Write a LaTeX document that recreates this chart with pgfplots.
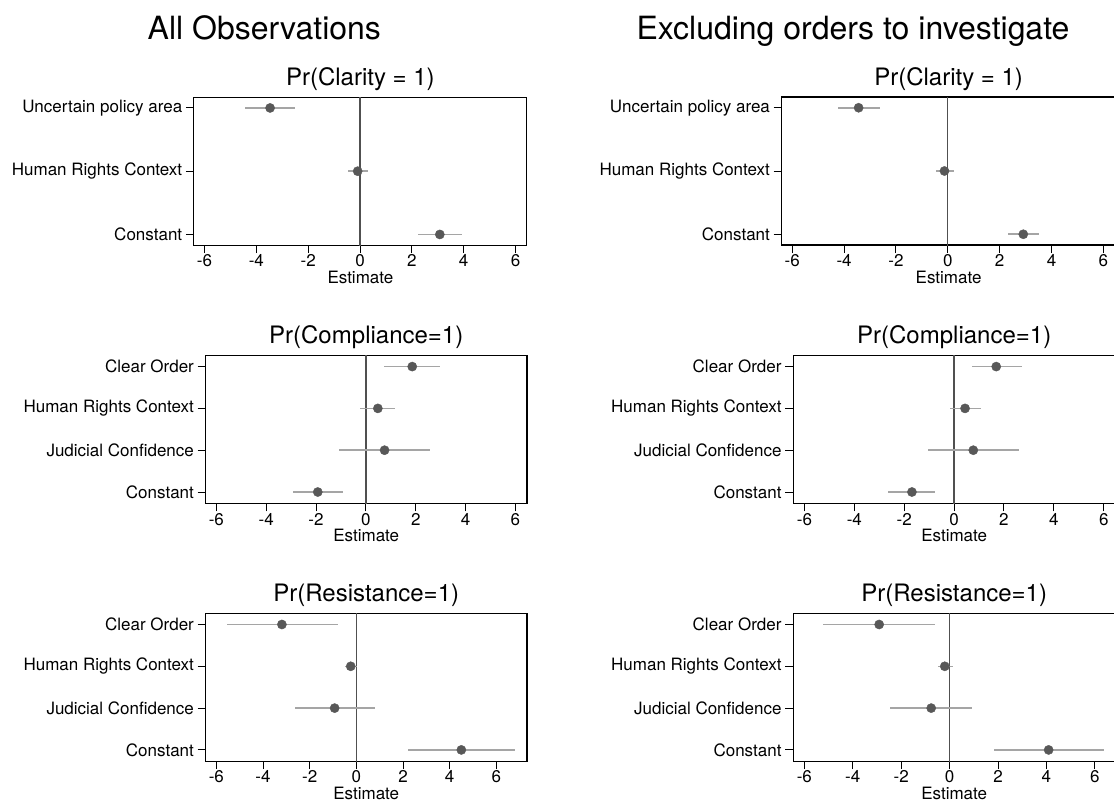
\documentclass[border=0pt]{standalone}
\usepackage{fontspec}
\setmainfont{TeX Gyre Heros}
\usepackage{pgfplots}
\usepackage{pgfplotstable}
\pgfplotsset{compat=1.18}

\definecolor{markgray}{RGB}{88,88,88}
\definecolor{cigray}{RGB}{165,165,165}
\definecolor{zerogray}{RGB}{80,80,80}

% All observations
\pgfplotstableread{
i b lo hi
1 -3.47 -4.45 -2.49
2 -0.09 -0.47 0.30
3 3.08 2.23 3.92
}\tA
\pgfplotstableread{
i b lo hi
1 1.86 0.72 2.98
2 0.48 -0.24 1.18
3 0.75 -1.07 2.56
4 -1.93 -2.93 -0.90
}\tC
\pgfplotstableread{
i b lo hi
1 -3.19 -5.56 -0.80
2 -0.24 -0.50 0.04
3 -0.93 -2.64 0.78
4 4.50 2.23 6.79
}\tE
% Excluding orders to investigate
\pgfplotstableread{
i b lo hi
1 -3.44 -4.23 -2.63
2 -0.13 -0.45 0.22
3 2.91 2.32 3.51
}\tB
\pgfplotstableread{
i b lo hi
1 1.69 0.70 2.71
2 0.44 -0.18 1.09
3 0.77 -1.04 2.59
4 -1.69 -2.64 -0.76
}\tD
\pgfplotstableread{
i b lo hi
1 -2.91 -5.23 -0.59
2 -0.20 -0.49 0.14
3 -0.76 -2.46 0.94
4 4.09 1.83 6.36
}\tF

\pgfplotsset{
  coefpanel/.style={
    scale only axis, height=148pt,
    y dir=reverse,
    axis line style={black, line width=1.2pt},
    tick align=outside, xtick pos=lower, ytick pos=left,
    major tick length=8pt,
    tick style={black, line width=1pt},
    xtick={-6,-4,-2,0,2,4,6},
    xticklabels={-6,-4,-2,0,2,4,6},
    tick label style={font=\fontsize{17}{20}\selectfont},
    xticklabel style={inner sep=0pt, yshift=-1.5pt},
    yticklabel style={inner sep=0pt, xshift=-3.5pt},
    xlabel={Estimate},
    xlabel style={font=\fontsize{17}{20}\selectfont, at={(axis description cs:0.5,0)}, anchor=base, yshift=-38.5pt},
    title style={font=\fontsize{24}{28}\selectfont, at={(axis description cs:0.5,1)}, anchor=base, yshift=6pt},
    clip=true,
  },
  cat3/.style={ymin=0.83, ymax=3.17, ytick={1,2,3}},
  cat4/.style={ymin=0.73, ymax=4.27, ytick={1,2,3,4}},
  zeroline/.style={zerogray, line width=1.3pt, forget plot},
  coefplot/.style={only marks, mark=*, mark size=4.6pt, mark options={fill=markgray, draw=markgray},
    error bars/.cd, x dir=both, x explicit, error mark=none,
    error bar style={cigray, line width=1.5pt}},
}

\newcommand{\coef}[1]{%
  \addplot[zeroline] coordinates {(0,0) (0,5)};
  \addplot[coefplot] table[x=b, y=i, x error plus expr=\thisrow{hi}-\thisrow{b}, x error minus expr=\thisrow{b}-\thisrow{lo}] {#1};
}

\begin{document}
\begin{tikzpicture}
\path[use as bounding box] (0pt,0pt) rectangle (1114pt,-802pt);

\node[font=\fontsize{32}{36}\selectfont, anchor=base] at (264.3pt,-40pt) {All Observations};
\node[font=\fontsize{32}{36}\selectfont, anchor=base] at (853pt,-40pt) {Excluding orders to investigate};

% Row 1
\begin{axis}[coefpanel, cat3, at={(193.9pt,-245.2pt)}, anchor=south west, width=333pt,
  xmin=-6.41, xmax=6.44, title={Pr(Clarity = 1)},
  yticklabels={Uncertain policy area, Human Rights Context, Constant}]
\coef{\tA}
\end{axis}
\begin{axis}[coefpanel, cat3, at={(781.6pt,-245pt)}, anchor=south west, width=334pt,
  xmin=-6.41, xmax=6.47, title={Pr(Clarity = 1)},
  yticklabels={Uncertain policy area, Human Rights Context, Constant}]
\coef{\tB}
\end{axis}

% Row 2
\begin{axis}[coefpanel, cat4, at={(205.6pt,-503.3pt)}, anchor=south west, width=321.3pt,
  xmin=-6.43, xmax=6.46, title={Pr(Compliance=1)},
  yticklabels={Clear Order, Human Rights Context, Judicial Confidence, Constant}]
\coef{\tC}
\end{axis}
\begin{axis}[coefpanel, cat4, at={(793.2pt,-503.3pt)}, anchor=south west, width=322pt,
  xmin=-6.45, xmax=6.46, title={Pr(Compliance=1)},
  yticklabels={Clear Order, Human Rights Context, Judicial Confidence, Constant}]
\coef{\tD}
\end{axis}

% Row 3
\begin{axis}[coefpanel, cat4, at={(205.6pt,-761.2pt)}, anchor=south west, width=321.3pt,
  xmin=-6.46, xmax=7.31, title={Pr(Resistance=1)},
  yticklabels={Clear Order, Human Rights Context, Judicial Confidence, Constant}]
\coef{\tE}
\end{axis}
\begin{axis}[coefpanel, cat4, at={(793.2pt,-761.2pt)}, anchor=south west, width=322pt,
  xmin=-6.46, xmax=6.84, title={Pr(Resistance=1)},
  yticklabels={Clear Order, Human Rights Context, Judicial Confidence, Constant}]
\coef{\tF}
\end{axis}
\end{tikzpicture}
\end{document}
